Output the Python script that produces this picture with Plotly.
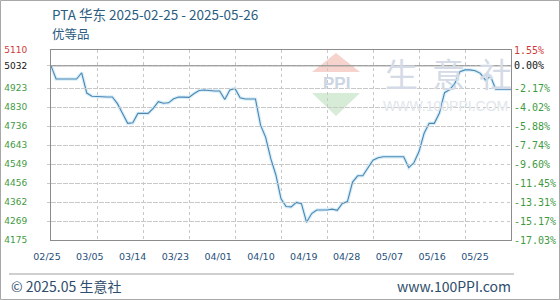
import plotly.graph_objects as go
import pandas as pd

# ---------------- data ----------------
start_date = "2025-02-25"
prices = [
    5032, 4967, 4967, 4967, 4967, 4967, 4998, 4898, 4882, 4880,
    4879, 4879, 4879, 4846, 4798, 4749, 4752, 4798, 4798, 4798,
    4823, 4856, 4848, 4850, 4870, 4879, 4878, 4877, 4896, 4911,
    4913, 4909, 4908, 4908, 4866, 4913, 4921, 4875, 4869, 4869,
    4869, 4740, 4680, 4575, 4495, 4378, 4340, 4338, 4360, 4354,
    4262, 4305, 4323, 4323, 4323, 4327, 4321, 4355, 4364, 4460,
    4491, 4491, 4533, 4568, 4580, 4585, 4585, 4585, 4585, 4585,
    4531, 4555, 4610, 4700, 4749, 4749, 4800, 4900, 4915, 4945,
    5003, 5012, 5012, 5008, 4995, 4962, 4980, 4917, 4917, 4917,
    4917,
]
base_price = 5032
y_ticks = [4175, 4268.5, 4362, 4455.5, 4549, 4642.5, 4736, 4829.5, 4923, 5032, 5110]
y_labels = ["4175", "4269", "4362", "4456", "4549", "4643", "4736", "4830", "4923", "5032", "5110"]
pct_labels = ["-17.03%", "-15.17%", "-13.31%", "-11.45%", "-9.60%", "-7.74%",
              "-5.88%", "-4.02%", "-2.17%", "0.00%", "1.55%"]
x_labels = ["02/25", "03/05", "03/14", "03/23", "04/01", "04/10",
            "04/19", "04/28", "05/07", "05/16", "05/25"]
title_text = "PTA 华东 2025-02-25 - 2025-05-26"
subtitle_text = "优等品"
footer_left = "© 2025.05 生意社"
footer_right = "www.100PPI.com"

dates = pd.date_range(start_date, periods=len(prices), freq="D").strftime("%Y-%m-%d").tolist()
grid_dates = dates[::9]

# ---------------- layout helpers (pixel -> paper) ----------------
W, H = 560, 300
ML, MR, MT, MB = 40, 49, 50, 60
PW, PH = W - ML - MR, H - MT - MB


def px(x):
    return (x - ML) / PW


def py(y):
    return (H - MB - y) / PH


GREEN = "#3f9a3f"
RED = "#d03a3a"
BLACK = "#111111"
BLUE_TXT = "#1f4f7a"
TITLE_C = "#2b5d80"


def colored(labels, special):
    out = []
    for lab in labels:
        c = special.get(lab, GREEN)
        out.append(f"<span style='color:{c}'>{lab}</span>")
    return out


left_text = colored(y_labels, {"5110": RED, "5032": BLACK})
right_text = colored(pct_labels, {"1.55%": RED, "0.00%": BLACK})

fig = go.Figure()

# glow under line
fig.add_trace(go.Scatter(x=dates, y=prices, mode="lines",
                         line=dict(color="#d9eef8", width=3.5),
                         hoverinfo="skip", showlegend=False))
fig.add_trace(go.Scatter(x=dates, y=prices, mode="lines",
                         line=dict(color="#4a87b3", width=1.1),
                         hoverinfo="skip", showlegend=False))
# invisible traces to carry the auxiliary axes
fig.add_trace(go.Scatter(x=list(range(len(x_labels))), y=[None] * len(x_labels),
                         xaxis="x2", yaxis="y", mode="markers",
                         marker=dict(opacity=0), hoverinfo="skip", showlegend=False))
fig.add_trace(go.Scatter(x=[dates[0]], y=[None], xaxis="x", yaxis="y2",
                         mode="markers", marker=dict(opacity=0),
                         hoverinfo="skip", showlegend=False))

yr = [y_ticks[0], y_ticks[-1]]

fig.update_layout(
    width=W, height=H,
    margin=dict(l=ML, r=MR, t=MT, b=MB, autoexpand=False),
    paper_bgcolor="white", plot_bgcolor="rgba(0,0,0,0)",
    showlegend=False,
    xaxis=dict(
        type="date", automargin=False,
        domain=[px(51), 1],
        range=[dates[0], dates[-1]],
        tickvals=grid_dates, showticklabels=False, ticks="",
        showgrid=True, gridcolor="#c8c8c8", griddash="dot", gridwidth=1,
        showline=True, linecolor="#8c8c8c", linewidth=1, mirror=True,
        zeroline=False, fixedrange=True,
    ),
    xaxis2=dict(
        type="linear", automargin=False,
        domain=[px(47), px(475)],
        range=[0, len(x_labels) - 1],
        anchor="y",
        tickvals=list(range(len(x_labels))), ticktext=x_labels,
        tickfont=dict(family="DejaVu Sans", size=9.5, color=BLUE_TXT),
        showgrid=False, showline=False, zeroline=False, ticks="",
        ticklabelstandoff=9, fixedrange=True,
    ),
    yaxis=dict(
        automargin=False,
        range=yr, tickvals=y_ticks, ticktext=left_text,
        tickfont=dict(family="DejaVu Sans", size=9, color=GREEN),
        showgrid=True, gridcolor="#c8c8c8", griddash="dot", gridwidth=1,
        showline=True, linecolor="#8c8c8c", linewidth=1, mirror=True,
        zeroline=False, ticks="", ticklabelstandoff=21, fixedrange=True,
    ),
    yaxis2=dict(
        automargin=False,
        range=yr, tickvals=y_ticks, ticktext=right_text,
        overlaying="y", side="right", anchor="x",
        tickfont=dict(family="DejaVu Sans Mono", size=10, color=GREEN),
        showgrid=False, showline=False, zeroline=False, ticks="",
        ticklabelstandoff=2, fixedrange=True,
    ),
)

shapes = []
# base (0.00%) line
shapes.append(dict(type="line", xref="paper", yref="y", x0=px(51), x1=1,
                   y0=base_price, y1=base_price,
                   line=dict(color="#8c8c8c", width=1), layer="above"))
# watermark logo
shapes.append(dict(type="path", xref="paper", yref="paper", layer="below",
                   path=f"M {px(312)},{py(72)} L {px(336)},{py(53)} L {px(360)},{py(72)} Z",
                   fillcolor="#f6d3cc", line=dict(width=0)))
shapes.append(dict(type="path", xref="paper", yref="paper", layer="below",
                   path=f"M {px(312)},{py(93)} L {px(360)},{py(93)} L {px(336)},{py(116)} Z",
                   fillcolor="#d6ecd6", line=dict(width=0)))
# footer separator
shapes.append(dict(type="line", xref="paper", yref="paper",
                   x0=px(9), x1=px(514), y0=py(274), y1=py(274),
                   line=dict(color="#a0a0a0", width=1)))
# outer frame
shapes.append(dict(type="rect", xref="paper", yref="paper",
                   x0=px(0.5), x1=px(559.5), y0=py(0.5), y1=py(299.5),
                   line=dict(color="#a8a8a8", width=1), fillcolor="rgba(0,0,0,0)"))
fig.update_layout(shapes=shapes)

ann = []
ann.append(dict(text=title_text, x=px(50), y=py(14), xref="paper", yref="paper",
                xanchor="left", yanchor="middle", showarrow=False,
                font=dict(family="Noto Sans CJK SC", size=13.5, color=TITLE_C)))
ann.append(dict(text=subtitle_text, x=px(50), y=py(34), xref="paper", yref="paper",
                xanchor="left", yanchor="middle", showarrow=False,
                font=dict(family="Noto Sans CJK SC", size=12.5, color=TITLE_C)))
ann.append(dict(text=footer_left, x=px(9), y=py(286), xref="paper", yref="paper",
                xanchor="left", yanchor="middle", showarrow=False,
                font=dict(family="Noto Sans CJK SC", size=14, color="#2e4d6b")))
ann.append(dict(text=footer_right, x=px(513), y=py(286), xref="paper", yref="paper",
                xanchor="right", yanchor="middle", showarrow=False,
                font=dict(family="Noto Sans CJK SC", size=14, color="#2e4d6b")))
# watermark text
ann.append(dict(text="<b>PPI</b>", x=px(336), y=py(83), xref="paper", yref="paper",
                xanchor="center", yanchor="middle", showarrow=False,
                font=dict(family="Liberation Sans", size=17, color="#cbd5e4")))
for ch, cx in zip("生意社", [401, 448, 495]):
    ann.append(dict(text=ch, x=px(cx), y=py(73), xref="paper", yref="paper",
                    xanchor="center", yanchor="middle", showarrow=False,
                    font=dict(family="Noto Sans CJK SC", size=33, color="#d4dbe6")))
ann.append(dict(text="WWW.100PPI.COM", x=px(445), y=py(106), xref="paper", yref="paper",
                xanchor="center", yanchor="middle", showarrow=False,
                font=dict(family="Liberation Sans", size=14, color="#e1e6ec")))
fig.update_layout(annotations=ann)

fig.write_html("out.html")
